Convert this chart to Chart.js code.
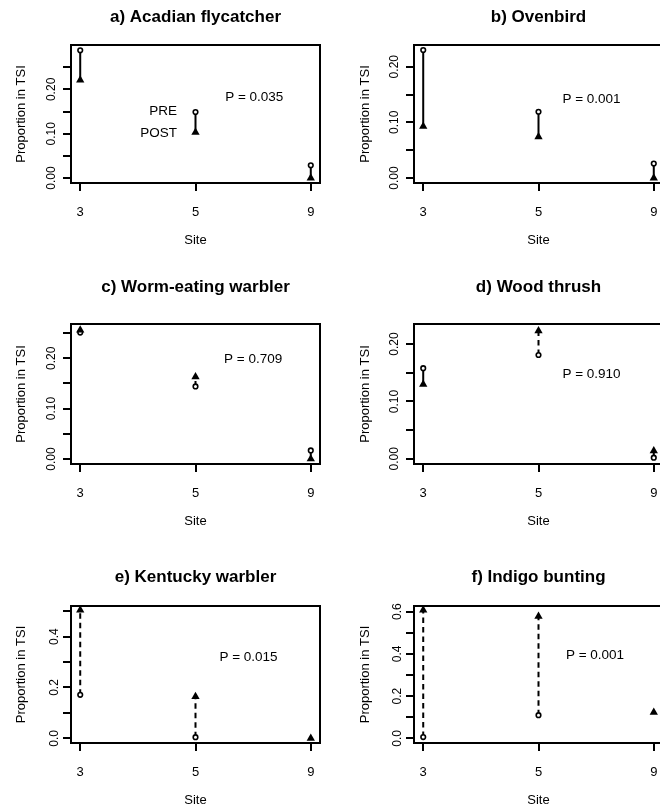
<!DOCTYPE html>
<html>
<head>
<meta charset="utf-8">
<script src="https://cdn.jsdelivr.net/npm/chart.js@4.4.1/dist/chart.umd.min.js"></script>
<style>
  html, body { margin: 0; padding: 0; background: #fff; }
  body { width: 660px; height: 808px; position: relative; overflow: hidden; }
  .panel { position: absolute; }
  .panel canvas { display: block; }
</style>
</head>
<body>
<script>
// sites on the x axis (equally spaced categories)
const sites = ["3", "5", "9"];
const sitePos = [1, 2, 3];

const titles = [
  "a) Acadian flycatcher",
  "b) Ovenbird",
  "c) Worm-eating warbler",
  "d) Wood thrush",
  "e) Kentucky warbler",
  "f) Indigo bunting"
];

// proportion in TSI, PRE (open circle) and POST (triangle), per site
// null = no PRE mark shown in the figure
const preA = [0.288, 0.149, 0.029];
const postA = [0.221, 0.103, 0.0];
const preB = [0.230, 0.119, 0.026];
const postB = [0.093, 0.074, 0.0];
const preC = [0.251, 0.144, 0.017];
const postC = [0.256, 0.163, 0.0];
const preD = [0.158, 0.181, 0.002];
const postD = [0.130, 0.223, 0.014];
const preE = [0.171, 0.005, null];
const postE = [0.504, 0.164, 0.0];
const preF = [0.006, 0.110, null];
const postF = [0.608, 0.578, 0.123];

const preValues = [preA, preB, preC, preD, preE, preF];
const postValues = [postA, postB, postC, postD, postE, postF];

const pLabels = ["P = 0.035", "P = 0.001", "P = 0.709", "P = 0.910", "P = 0.015", "P = 0.001"];

// axis ranges and ticks
const yLimits = [[-0.011, 0.300], [-0.009, 0.239], [-0.010, 0.268], [-0.009, 0.235], [-0.018, 0.520], [-0.022, 0.627]];
const yTicks = [
  [0, 0.05, 0.10, 0.15, 0.20, 0.25],
  [0, 0.05, 0.10, 0.15, 0.20],
  [0, 0.05, 0.10, 0.15, 0.20, 0.25],
  [0, 0.05, 0.10, 0.15, 0.20],
  [0, 0.1, 0.2, 0.3, 0.4, 0.5],
  [0, 0.1, 0.2, 0.3, 0.4, 0.5, 0.6]
];
const yTickLabels = [
  ["0.00", "", "0.10", "", "0.20", ""],
  ["0.00", "", "0.10", "", "0.20"],
  ["0.00", "", "0.10", "", "0.20", ""],
  ["0.00", "", "0.10", "", "0.20"],
  ["0.0", "", "0.2", "", "0.4", ""],
  ["0.0", "", "0.2", "", "0.4", "", "0.6"]
];

// where the text notes sit, in data units
const pLabelAt = [[2.51, 0.182], [2.46, 0.141], [2.50, 0.197], [2.46, 0.148], [2.46, 0.318], [2.49, 0.392]];
const keyLabels = ["PRE", "POST"];
const keyLabelAt = [[1.84, 0.150], [1.84, 0.100]];

// page layout
const columns = [
  { left: 0, width: 330, yAxisW: 71, padRight: 10, yTitlePad: 14 },
  { left: 330, width: 342, yAxisW: 84, padRight: 9, yTitlePad: 27.5 }
];
const rows = [
  { top: 0, height: 270, titleMid: 17, boxTop: 45, boxBottom: 183 },
  { top: 270, height: 270, titleMid: 17, boxTop: 54, boxBottom: 194 },
  { top: 540, height: 268, titleMid: 37, boxTop: 66, boxBottom: 203 }
];

const FONT = "'Liberation Sans', Arial, Helvetica, sans-serif";
Chart.defaults.font.family = FONT;
Chart.defaults.color = "#000";

const tickGrid = {
  drawOnChartArea: false,
  drawTicks: true,
  tickLength: 8,
  color: "#000",
  lineWidth: 2
};

const panelDecor = {
  id: "panelDecor",
  afterDraw(chart, args, opts) {
    const { ctx, chartArea: a } = chart;
    const x = chart.scales.x, y = chart.scales.y;
    ctx.save();
    ctx.strokeStyle = "#000";
    ctx.lineWidth = 2;
    ctx.strokeRect(a.left, a.top, a.right - a.left, a.bottom - a.top);
    ctx.fillStyle = "#000";
    ctx.font = "13.5px " + FONT;
    ctx.textBaseline = "middle";
    ctx.textAlign = "center";
    const at = pLabelAt[opts.index];
    ctx.fillText(pLabels[opts.index], x.getPixelForValue(at[0]), y.getPixelForValue(at[1]));
    if (opts.index === 0) {
      ctx.textAlign = "right";
      keyLabels.forEach((txt, k) => {
        ctx.fillText(txt, x.getPixelForValue(keyLabelAt[k][0]), y.getPixelForValue(keyLabelAt[k][1]));
      });
    }
    ctx.restore();
  }
};

function makePanel(i) {
  const col = columns[i % 2];
  const row = rows[Math.floor(i / 2)];
  const wrap = document.createElement("div");
  wrap.className = "panel";
  wrap.style.left = col.left + "px";
  wrap.style.top = row.top + "px";
  const canvas = document.createElement("canvas");
  canvas.width = col.width;
  canvas.height = row.height;
  wrap.appendChild(canvas);
  document.body.appendChild(wrap);

  const pre = preValues[i];
  const post = postValues[i];

  // solid when the proportion fell after treatment, dashed when it rose
  const segments = sitePos.map((x, k) => ({
    data: [{ x, y: pre[k] }, { x, y: post[k] }],
    showLine: true,
    borderColor: "#000",
    borderWidth: 2,
    borderDash: post[k] > pre[k] ? [5.5, 4] : [],
    pointRadius: 0,
    clip: false,
    order: 3
  }));

  const preSet = {
    data: sitePos.map((x, k) => ({ x, y: pre[k] })),
    pointStyle: "circle",
    pointRadius: 2.3,
    pointBorderWidth: 1.6,
    pointBorderColor: "#000",
    pointBackgroundColor: "#fff",
    clip: false,
    order: 2
  };

  const postSet = {
    data: sitePos.map((x, k) => ({ x, y: post[k] })),
    pointStyle: "triangle",
    pointRadius: 4.8,
    pointBorderWidth: 0,
    pointBackgroundColor: "#000",
    pointBorderColor: "#000",
    clip: false,
    order: 1
  };

  const titleLh = 17 * 1.2;

  new Chart(canvas, {
    type: "scatter",
    data: { datasets: [postSet, preSet, ...segments] },
    options: {
      responsive: false,
      animation: false,
      events: [],
      devicePixelRatio: 1,
      layout: { padding: { left: 0, right: col.padRight, top: 0, bottom: 0 } },
      plugins: {
        legend: { display: false },
        tooltip: { enabled: false },
        title: {
          display: true,
          text: titles[i],
          fullSize: false,
          color: "#000",
          font: { size: 17, weight: "bold", family: FONT },
          padding: { top: row.titleMid - titleLh / 2, bottom: row.boxTop - row.titleMid - titleLh / 2 }
        },
        panelDecor: { index: i }
      },
      scales: {
        x: {
          type: "linear",
          min: 0.92,
          max: 3.08,
          afterBuildTicks: (s) => { s.ticks = sitePos.map((v) => ({ value: v })); },
          afterFit: (s) => { s.height = row.height - row.boxBottom; },
          ticks: {
            autoSkip: false,
            maxRotation: 0,
            padding: 14,
            font: { size: 13 },
            color: "#000",
            callback: (v) => sites[sitePos.indexOf(v)]
          },
          grid: tickGrid,
          border: { display: false },
          title: {
            display: true,
            text: "Site",
            color: "#000",
            font: { size: 13 },
            padding: { top: 0, bottom: Math.max(0, row.height - row.boxBottom - 57 - 7.8) }
          }
        },
        y: {
          type: "linear",
          min: yLimits[i][0],
          max: yLimits[i][1],
          afterBuildTicks: (s) => { s.ticks = yTicks[i].map((v) => ({ value: v })); },
          afterFit: (s) => { s.width = col.yAxisW; },
          ticks: {
            autoSkip: false,
            minRotation: 90,
            maxRotation: 90,
            crossAlign: "center",
            padding: 0,
            font: { size: 12 },
            color: "#000",
            callback: (v, idx) => yTickLabels[i][idx]
          },
          grid: tickGrid,
          border: { display: false },
          title: {
            display: true,
            text: "Proportion in TSI",
            color: "#000",
            font: { size: 13 },
            padding: { top: col.yTitlePad, bottom: 0 }
          }
        }
      }
    },
    plugins: [panelDecor]
  });
}

for (let i = 0; i < titles.length; i++) makePanel(i);
</script>
</body>
</html>
